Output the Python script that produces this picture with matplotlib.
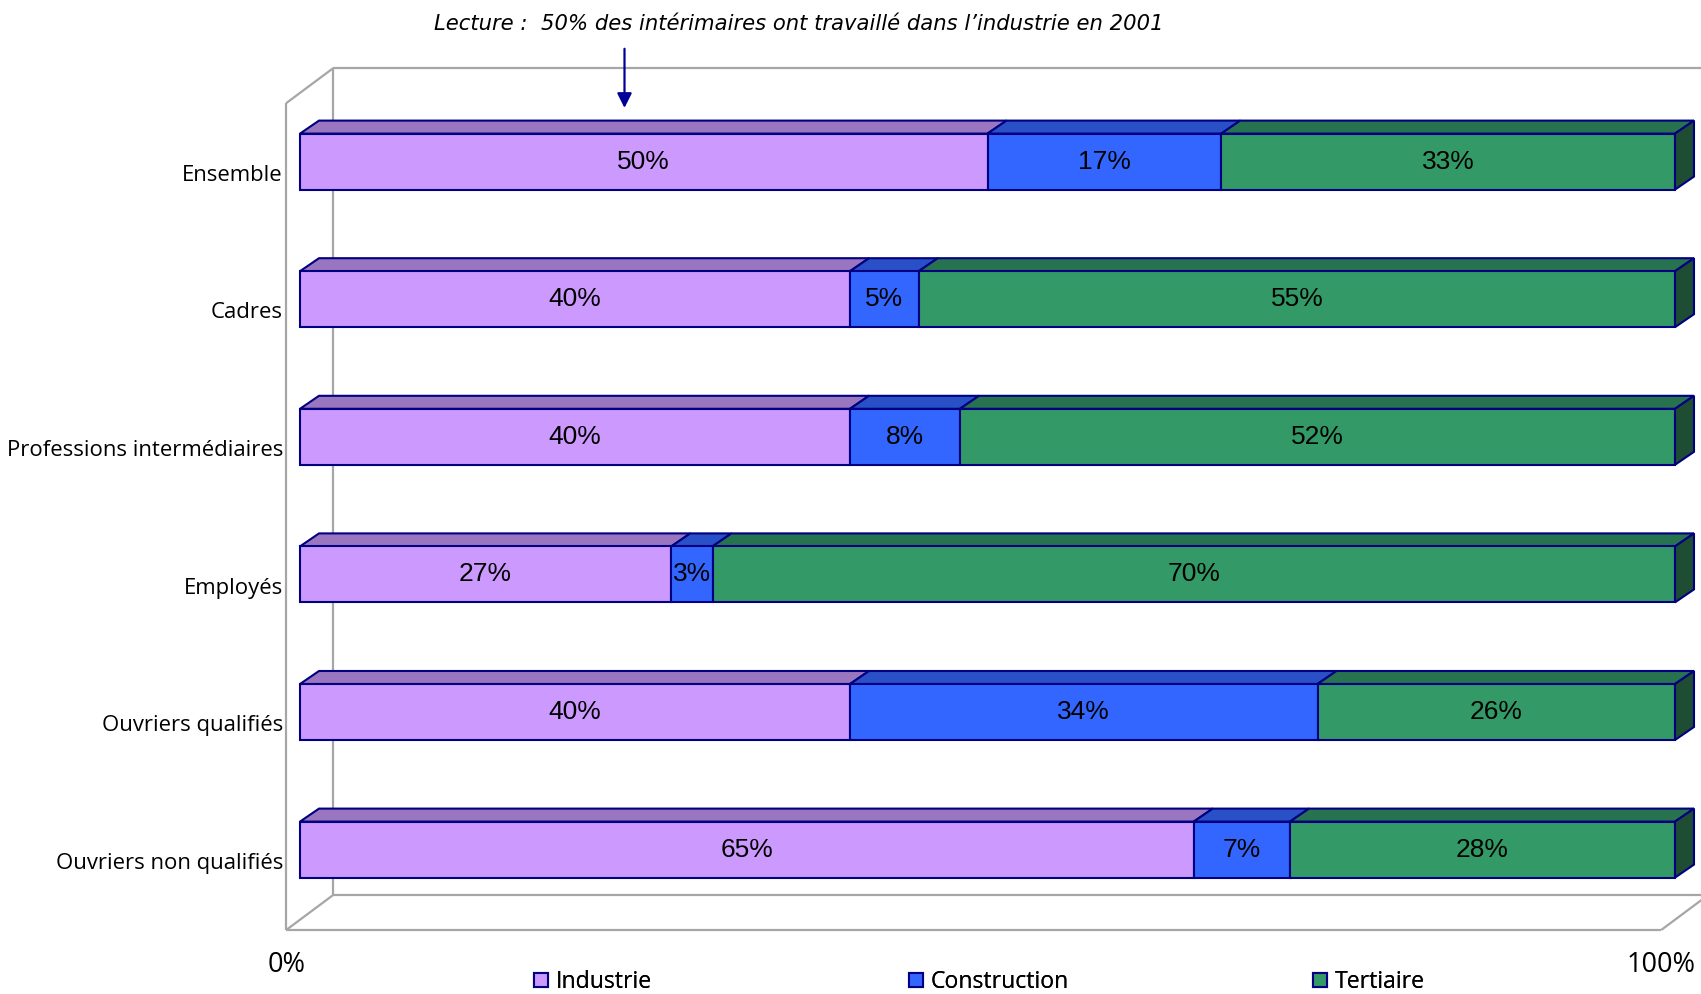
import matplotlib
matplotlib.use("Agg")
import matplotlib.pyplot as plt
from matplotlib.patches import Polygon, Patch

# ------------------------
# Data
# ------------------------
categories = ["Ensemble", "Cadres", "Professions intermédiaires", "Employés",
              "Ouvriers qualifiés", "Ouvriers non qualifiés"]
industrie = [50, 40, 40, 27, 40, 65]
construction = [17, 5, 8, 3, 34, 7]
tertiaire = [33, 55, 52, 70, 26, 28]

series_names = ["Industrie", "Construction", "Tertiaire"]
series = [industrie, construction, tertiaire]

# face / top / side colours per series
face_cols = ["#CC99FF", "#3366FF", "#339966"]
top_cols = ["#9B76C0", "#2A50C8", "#277350"]
side_cols = ["#7A5C99", "#1F3C99", "#1E4D33"]
EDGE = "#000080"
WALL = "#A6A6A6"
LABEL_FONT = ["Open Sans", "DejaVu Sans"]

# ------------------------
# Geometry (data units: x in %, y in category rows)
# ------------------------
PX_X = 13.75      # pixels per percent
PX_Y = 137.6      # pixels per category row
BAR_H = 56 / PX_Y
DX = 19 / PX_X    # bar depth, x part
DY = 13 / PX_Y    # bar depth, y part
WDX = 47 / PX_X   # wall depth
WDY = 35 / PX_Y

fig = plt.figure(figsize=(17.01, 9.94), dpi=100)
ax = fig.add_axes([0, 0, 1, 1])
ax.set_xlim(-300 / PX_X, (1701 - 300) / PX_X)
ax.set_ylim((994 - 161.6) / PX_Y, -161.6 / PX_Y)
ax.axis("off")

# walls and floor of the 3D box
wx0, wx1 = -1.0, 99.0
wy_top, wy_bot = -0.425, 5.584
wall_kw = dict(color=WALL, lw=1.6, solid_capstyle="butt", zorder=1)
ax.plot([wx0, wx0], [wy_top, wy_bot], **wall_kw)
ax.plot([wx0, wx0 + WDX], [wy_top, wy_top - WDY], **wall_kw)
ax.plot([wx0 + WDX, wx0 + WDX], [wy_top - WDY, wy_bot - WDY], **wall_kw)
ax.plot([wx0 + WDX, 110], [wy_top - WDY, wy_top - WDY], **wall_kw)
ax.plot([wx0, wx1], [wy_bot, wy_bot], **wall_kw)
ax.plot([wx0, wx0 + WDX], [wy_bot, wy_bot - WDY], **wall_kw)
ax.plot([wx0 + WDX, 110], [wy_bot - WDY, wy_bot - WDY], **wall_kw)
ax.plot([wx1, wx1 + WDX], [wy_bot, wy_bot - WDY], **wall_kw)

# stacked 3D bars
for i, cat in enumerate(categories):
    yt = i - BAR_H / 2
    yb = i + BAR_H / 2
    left = 0
    for k, vals in enumerate(series):
        v = vals[i]
        right = left + v
        top = Polygon([(left, yt), (right, yt), (right + DX, yt - DY), (left + DX, yt - DY)],
                      closed=True, fc=top_cols[k], ec=EDGE, lw=1.5, zorder=2)
        front = Polygon([(left, yt), (right, yt), (right, yb), (left, yb)],
                        closed=True, fc=face_cols[k], ec=EDGE, lw=1.5, zorder=3)
        ax.add_patch(top)
        ax.add_patch(front)
        ax.text((left + right) / 2, i, f"{v}%", ha="center", va="center",
                fontsize=19, family="Liberation Sans", zorder=5)
        left = right
    side = Polygon([(left, yt), (left + DX, yt - DY), (left + DX, yb - DY), (left, yb)],
                   closed=True, fc=side_cols[2], ec=EDGE, lw=1.5, zorder=3)
    ax.add_patch(side)
    ax.text(-1.24, i + 0.1, cat, ha="right", va="center", fontsize=15.9, family=LABEL_FONT)

# axis end labels
ax.text(wx0, 5.84, "0%", ha="center", va="center", fontsize=19.5, family=LABEL_FONT)
ax.text(wx1, 5.84, "100%", ha="center", va="center", fontsize=19.5, family=LABEL_FONT)

# reading note with arrow
ax.text(36.25, -1.0, "Lecture :  50% des intérimaires ont travaillé dans l\u2019industrie en 2001",
        ha="center", va="center", fontsize=15.2, style="italic")
ax.annotate("", xy=(23.6, -0.39), xytext=(23.6, -0.82),
            arrowprops=dict(arrowstyle="-|>", color="#000099", lw=1.6,
                            mutation_scale=22, shrinkA=0, shrinkB=0))

# legend, one entry per block
legend_x = [534, 909, 1313]
for k, name in enumerate(series_names):
    h = Patch(fc=face_cols[k], ec=EDGE, lw=1.5)
    leg = fig.legend([h], [name], loc="center left",
                     bbox_to_anchor=(legend_x[k] / 1701, 1 - 982 / 994),
                     frameon=False, prop=dict(family=LABEL_FONT, size=16.6),
                     handlelength=0.6, handleheight=0.6, handletextpad=0.35,
                     borderpad=0, borderaxespad=0)
    fig.add_artist(leg)

fig.savefig("out.png", dpi=100)
